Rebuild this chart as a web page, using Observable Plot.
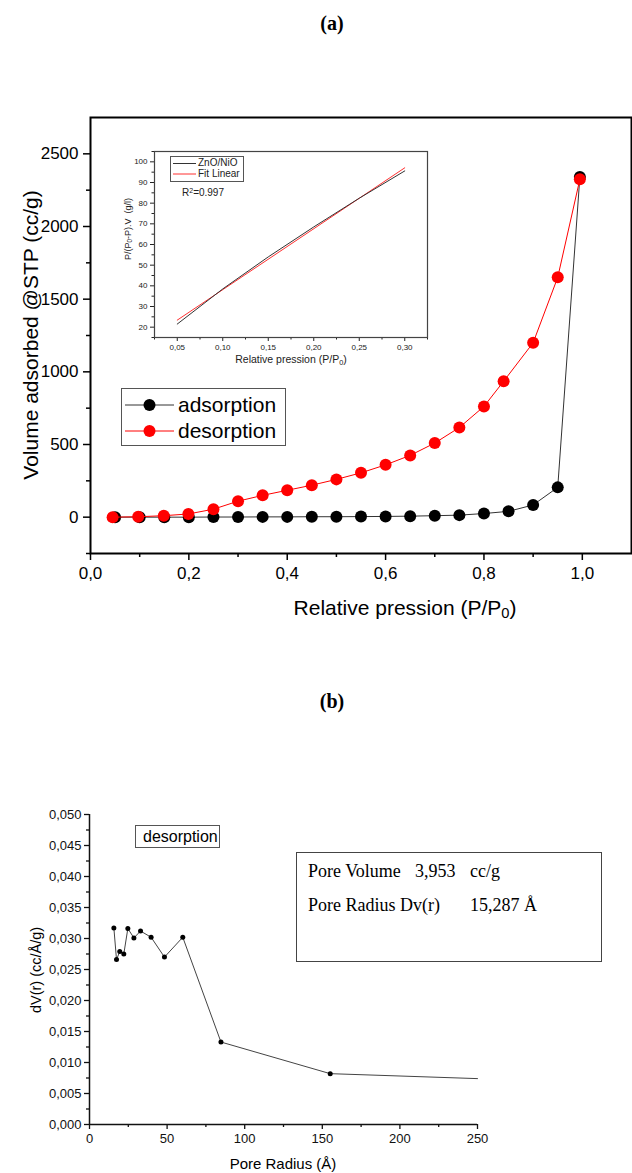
<!DOCTYPE html>
<html>
<head>
<meta charset="utf-8">
<script src="https://cdn.jsdelivr.net/npm/d3@7"></script>
<script src="https://cdn.jsdelivr.net/npm/@observablehq/plot@0.6"></script>
<style>
  body { margin: 0; background: #fff; }
  #root { position: relative; width: 632px; height: 1173px; overflow: hidden; background: #fff; font-family: 'Liberation Sans', Arial, sans-serif; }
  .abs { position: absolute; white-space: nowrap; line-height: 1; }
  .rot { transform: translate(-50%, -50%) rotate(-90deg); }
  .ctr { transform: translate(-50%, -50%); }
  .serif { font-family: 'Liberation Serif', 'Times New Roman', serif; }
  sub { font-size: 0.7em; vertical-align: -0.25em; line-height: 0; }
  sup { font-size: 0.7em; vertical-align: 0.45em; line-height: 0; }
</style>
</head>
<body>
<div id="root"></div>
<script>
// ---------- Panel (a): isotherm ----------
const adsP = [0.05,0.10,0.15,0.20,0.25,0.30,0.35,0.40,0.45,0.50,0.55,0.60,0.65,0.70,0.75,0.80,0.85,0.90,0.95,0.995];
const adsV = [0,0,0,0,1,1,2,2,3,3,4,5,7,10,14,25,40,84,205,2340];
const desP = [0.045,0.097,0.149,0.199,0.25,0.30,0.35,0.40,0.45,0.50,0.55,0.60,0.65,0.70,0.75,0.80,0.84,0.90,0.95,0.995];
const desV = [0,3,10,22,55,110,150,185,220,260,305,360,425,510,617,762,935,1200,1650,2325];
const aXTicks = [0,0.2,0.4,0.6,0.8,1.0];
const aXMinor = [0.1,0.3,0.5,0.7,0.9];
const aYTicks = [0,500,1000,1500,2000,2500];
const aYMinor = [-250,250,750,1250,1750,2250];

// ---------- Inset: BET plot ----------
const insP = [0.05,0.10,0.15,0.20,0.25,0.30];
const insBET = [21.5,38.5,54.0,68.5,82.4,95.6];
const fitP = [0.05,0.30];
const fitV = [23.4,97.1];
const iXTicks = [0.05,0.10,0.15,0.20,0.25,0.30];
const iXMinor = [0.025,0.075,0.125,0.175,0.225,0.275,0.325];
const iYTicks = [20,30,40,50,60,70,80,90,100];
const iYMinor = [15,25,35,45,55,65,75,85,95,105];

// ---------- Panel (b): pore size distribution ----------
const poreR  = [15.7,17.4,19.5,22.1,24.7,28.6,32.9,39.7,48.3,60.1,84.7,155.1,250];
const poreDV = [0.0317,0.0266,0.0279,0.0275,0.0316,0.0301,0.0312,0.0302,0.0270,0.0302,0.0133,0.0082,0.0074];
const poreMarked = 12; // markers on the first 12 points only
const bXTicks = [0,50,100,150,200,250];
const bXMinor = [25,75,125,175,225];
const bYTicks = [0,0.005,0.010,0.015,0.020,0.025,0.030,0.035,0.040,0.045,0.050];
const bYMinor = [0.0025,0.0075,0.0125,0.0175,0.0225,0.0275,0.0325,0.0375,0.0425,0.0475];

const root = document.getElementById("root");
const comma = (d, n) => d.toFixed(n).replace(".", ",");
function place(el, left, top) {
  el.style.position = "absolute";
  el.style.left = left + "px";
  el.style.top = top + "px";
  el.style.maxWidth = "none";
  root.appendChild(el);
  return el;
}
function html(str, cls, left, top, styles) {
  const d = document.createElement("div");
  d.className = "abs " + (cls || "");
  d.innerHTML = str;
  d.style.left = left + "px";
  d.style.top = top + "px";
  Object.assign(d.style, styles || {});
  root.appendChild(d);
  return d;
}

const ads = adsP.map((x, i) => ({x, y: adsV[i]}));
const des = desP.map((x, i) => ({x, y: desV[i]}));

const plotA = Plot.plot({
  width: 632, height: 530,
  marginLeft: 90, marginTop: 17, marginRight: 1, marginBottom: 77,
  x: {domain: [0, 1.1]},
  y: {domain: [-250, 2750]},
  style: {fontFamily: "'Liberation Sans', Arial, sans-serif", background: "transparent", color: "#000"},
  marks: [
    Plot.axisX({ticks: aXTicks, tickSize: 7, tickPadding: 6, fontSize: 17, tickFormat: d => comma(d, 1), label: null, strokeWidth: 1.5}),
    Plot.axisX({ticks: aXMinor, tickSize: 4, tickFormat: () => "", label: null, strokeWidth: 1.5}),
    Plot.axisY({ticks: aYTicks, tickSize: 7, tickPadding: 5, fontSize: 17, tickFormat: d => String(d), label: null, strokeWidth: 1.5}),
    Plot.axisY({ticks: aYMinor, tickSize: 4, tickFormat: () => "", label: null, strokeWidth: 1.5}),
    Plot.line(ads, {x: "x", y: "y", stroke: "#333", strokeWidth: 1}),
    Plot.dot(ads, {x: "x", y: "y", r: 6, fill: "#000", stroke: "none"}),
    Plot.line(des, {x: "x", y: "y", stroke: "#ff0000", strokeWidth: 1}),
    Plot.dot(des, {x: "x", y: "y", r: 6, fill: "#ff0000", stroke: "none"}),
    Plot.frame({stroke: "#000", strokeWidth: 2})
  ]
});
place(plotA, 0, 100);

const bet = insP.map((x, i) => ({x, y: insBET[i]}));
const fit = fitP.map((x, i) => ({x, y: fitV[i]}));
const plotI = Plot.plot({
  width: 340, height: 235,
  marginLeft: 54, marginTop: 11, marginRight: 13, marginBottom: 38,
  x: {domain: [0.025, 0.325]},
  y: {domain: [15, 105]},
  style: {fontFamily: "'Liberation Sans', Arial, sans-serif", background: "transparent", color: "#222"},
  marks: [
    Plot.frame({fill: "#fff", stroke: "none"}),
    Plot.axisX({ticks: iXTicks, tickSize: 4, tickPadding: 3, fontSize: 8, tickFormat: d => comma(d, 2), label: null}),
    Plot.axisX({ticks: iXMinor, tickSize: 2.5, tickFormat: () => "", label: null}),
    Plot.axisY({ticks: iYTicks, tickSize: 4, tickPadding: 3, fontSize: 8, tickFormat: d => String(d), label: null}),
    Plot.axisY({ticks: iYMinor, tickSize: 2.5, tickFormat: () => "", label: null}),
    Plot.line(fit, {x: "x", y: "y", stroke: "#ff3030", strokeWidth: 1}),
    Plot.line(bet, {x: "x", y: "y", stroke: "#333", strokeWidth: 1}),
    Plot.frame({stroke: "#444", strokeWidth: 1.2})
  ]
});
place(plotI, 100, 140);

const pore = poreR.map((x, i) => ({x, y: poreDV[i]}));
const plotB = Plot.plot({
  width: 632, height: 373,
  marginLeft: 89, marginTop: 14, marginRight: 155, marginBottom: 49,
  x: {domain: [0, 250]},
  y: {domain: [0, 0.05]},
  style: {fontFamily: "'Liberation Sans', Arial, sans-serif", background: "transparent", color: "#111"},
  marks: [
    Plot.axisX({ticks: bXTicks, tickSize: 5, tickPadding: 4, fontSize: 13, tickFormat: d => String(d), label: null, strokeWidth: 1.3}),
    Plot.axisX({ticks: bXMinor, tickSize: 3, tickFormat: () => "", label: null, strokeWidth: 1.3}),
    Plot.axisY({ticks: bYTicks, tickSize: 5, tickPadding: 3, fontSize: 13, tickFormat: d => comma(d, 3), label: null, strokeWidth: 1.3}),
    Plot.axisY({ticks: bYMinor, tickSize: 3, tickFormat: () => "", label: null, strokeWidth: 1.3}),
    Plot.ruleX([0], {stroke: "#111", strokeWidth: 1.5}),
    Plot.ruleY([0], {stroke: "#111", strokeWidth: 1.5}),
    Plot.line(pore, {x: "x", y: "y", stroke: "#444", strokeWidth: 1}),
    Plot.dot(pore.slice(0, poreMarked), {x: "x", y: "y", r: 2.5, fill: "#000", stroke: "none"})
  ]
});
place(plotB, 0, 800);

// ---------- Text: titles, labels, legends ----------
html("(a)", "serif ctr", 332, 23, {fontSize: "20px", fontWeight: "bold"});
html("(b)", "serif ctr", 332, 701, {fontSize: "20px", fontWeight: "bold"});

html("Volume adsorbed @STP (cc/g)", "rot", 30, 335, {fontSize: "21px"});
html("Relative pression (P/P<sub>0</sub>)", "ctr", 405, 607, {fontSize: "21px"});

html("P/(P<sub>0</sub>-P).V&nbsp;&nbsp;(g/l)", "rot", 128, 229, {fontSize: "9px", color: "#222"});
html("Relative pression (P/P<sub>0</sub>)", "ctr", 291, 359, {fontSize: "10.5px", color: "#222"});
html("R<sup>2</sup>=0.997", "ctr", 203, 193, {fontSize: "10px", color: "#222"});

// inset legend
const il = html("", "", 170, 156, {width: "72px", height: "24px", border: "1px solid #555", background: "#fff"});
il.innerHTML =
  '<svg width="24" height="24" style="position:absolute;left:1px;top:0"><line x1="1" x2="24" y1="6.5" y2="6.5" stroke="#333" stroke-width="1"/><line x1="1" x2="24" y1="17" y2="17" stroke="#ff3030" stroke-width="1"/></svg>' +
  '<div class="abs" style="left:27px;top:1px;font-size:10px;color:#222">ZnO/NiO</div>' +
  '<div class="abs" style="left:27px;top:12px;font-size:10px;color:#222">Fit Linear</div>';

// main legend
const ml = html("", "", 121, 388, {width: "163px", height: "56px", border: "1px solid #555", background: "#fff"});
ml.innerHTML =
  '<svg width="54" height="56" style="position:absolute;left:2px;top:0"><line x1="1" x2="50" y1="16" y2="16" stroke="#333" stroke-width="1"/><circle cx="25.5" cy="16" r="6" fill="#000"/><line x1="1" x2="50" y1="42" y2="42" stroke="#ff0000" stroke-width="1"/><circle cx="25.5" cy="42" r="6" fill="#ff0000"/></svg>' +
  '<div class="abs" style="left:56px;top:5px;font-size:21px">adsorption</div>' +
  '<div class="abs" style="left:56px;top:31px;font-size:21px">desorption</div>';

// panel (b) labels
html("dV(r) (cc/Å/g)", "rot", 36, 970, {fontSize: "14.5px"});
html("Pore Radius (Å)", "ctr", 283, 1163, {fontSize: "15px"});
html("desorption", "", 135, 825, {fontSize: "16px", border: "1px solid #555", padding: "3px 2px 2px 7px", width: "74px", height: "16px"});

const pb = html("", "serif", 296, 852, {width: "304px", height: "108px", border: "1px solid #444", fontSize: "18px"});
pb.innerHTML =
  '<div class="abs" style="left:11px;top:9px">Pore Volume</div>' +
  '<div class="abs" style="left:118px;top:9px">3,953</div>' +
  '<div class="abs" style="left:173px;top:9px">cc/g</div>' +
  '<div class="abs" style="left:11px;top:43px">Pore Radius Dv(r)</div>' +
  '<div class="abs" style="left:173px;top:43px">15,287 Å</div>';
</script>
</body>
</html>
